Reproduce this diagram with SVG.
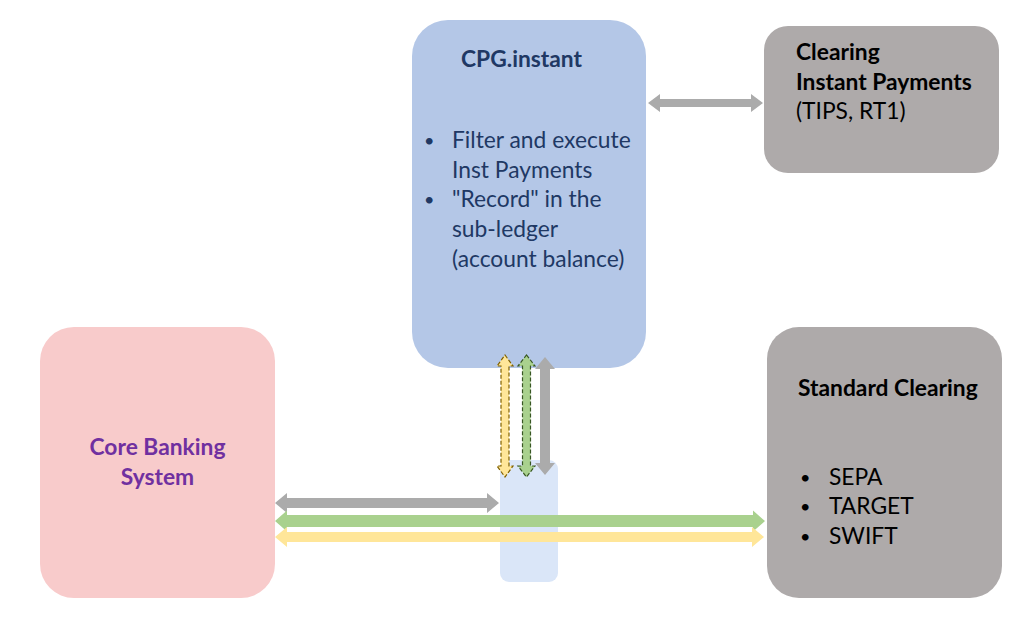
<svg xmlns="http://www.w3.org/2000/svg" width="1024" height="630" viewBox="0 0 1024 630">
<style>
text{font-family:Lato,"Liberation Sans",sans-serif;font-size:22.8px}
.b{font-weight:bold}
.bul{font-size:18px}
.navy{fill:#203864}
.blk{fill:#000}
.pur{fill:#7030A0}
.grayArrow{fill:#ABABAB}
.greenArrow{fill:#A9D18E}
.yellowArrow{fill:#FFE699}
</style>
<rect width="1024" height="630" fill="#fff"/>
<g id="core-banking">
<rect x="40" y="327" width="235" height="271" rx="34" fill="#F8CBCB"/>
<text class="b pur" x="157.5" y="455" text-anchor="middle">Core Banking</text>
<text class="b pur" x="157.5" y="485" text-anchor="middle">System</text>
</g>
<g id="cpg-instant">
<rect x="412" y="20" width="234" height="348" rx="36" fill="#B4C7E7"/>
<text class="b navy" x="461" y="67">CPG.instant</text>
<text class="navy bul" x="424" y="147">•</text>
<text class="navy" x="452" y="148">Filter and execute</text>
<text class="navy" x="452" y="178">Inst Payments</text>
<text class="navy bul" x="424" y="206">•</text>
<text class="navy" x="452" y="207">"Record" in the</text>
<text class="navy" x="452" y="237">sub-ledger</text>
<text class="navy" x="452" y="267">(account balance)</text>
</g>
<g id="clearing-instant">
<rect x="764" y="26" width="235" height="147" rx="24" fill="#AEAAAA"/>
<text class="b blk" x="796" y="60">Clearing</text>
<text class="b blk" x="796" y="90">Instant Payments</text>
<text class="blk" x="796" y="119">(TIPS, RT1)</text>
</g>
<g id="standard-clearing">
<rect x="767" y="327" width="235" height="271" rx="32" fill="#AEAAAA"/>
<text class="b blk" x="798" y="396">Standard Clearing</text>
<text class="blk bul" x="800" y="484">•</text>
<text class="blk" x="829" y="485">SEPA</text>
<text class="blk bul" x="800" y="513">•</text>
<text class="blk" x="829" y="514">TARGET</text>
<text class="blk bul" x="800" y="543">•</text>
<text class="blk" x="829" y="544">SWIFT</text>
</g>
<g id="hub">
<rect x="500" y="460" width="58" height="122" rx="9" fill="#DAE6F8"/>
</g>
<g id="connectors">
<path class="grayArrow" d="M648 103 L660 94 L660 99 L751 99 L751 94 L763 103 L751 112 L751 107 L660 107 L660 112 Z"/>
<path class="grayArrow" d="M275 503 L287 493 L287 498 L487 498 L487 493 L499 503 L487 513 L487 508 L287 508 L287 513 Z"/>
<path class="greenArrow" d="M275 521 L287 510.5 L287 515 L753 515 L753 510.5 L765 521 L753 531.5 L753 527 L287 527 L287 531.5 Z"/>
<path class="yellowArrow" d="M275 537 L287 527 L287 532 L752 532 L752 527 L764 537 L752 547 L752 542 L287 542 L287 547 Z"/>
<path class="yellowArrow" stroke="#7F6000" stroke-width="1.2" stroke-dasharray="4 2" d="M505 355 L513 366 L509 366 L509 466 L513 466 L505 477 L497 466 L501 466 L501 366 L497 366 Z"/>
<path class="greenArrow" stroke="#385723" stroke-width="1.2" stroke-dasharray="4 2" d="M526.5 355 L535 366 L530.5 366 L530.5 466 L535 466 L526.5 477 L518 466 L522.5 466 L522.5 366 L518 366 Z"/>
<path class="grayArrow" d="M545 357 L555 369 L550 369 L550 463 L555 463 L545 475 L535 463 L540 463 L540 369 L535 369 Z"/>
</g>
</svg>
